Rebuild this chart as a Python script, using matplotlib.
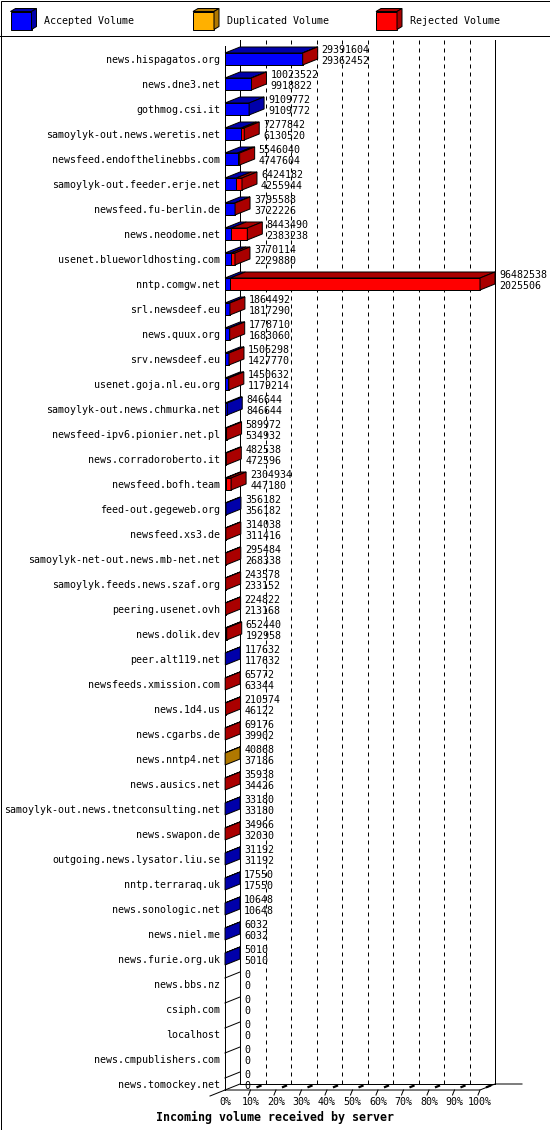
import matplotlib
matplotlib.use("Agg")
import matplotlib.pyplot as plt
from matplotlib.patches import Polygon, Rectangle

# Servers, sorted by accepted volume
servers = [
    "news.hispagatos.org", "news.dne3.net", "gothmog.csi.it",
    "samoylyk-out.news.weretis.net", "newsfeed.endofthelinebbs.com",
    "samoylyk-out.feeder.erje.net", "newsfeed.fu-berlin.de", "news.neodome.net",
    "usenet.blueworldhosting.com", "nntp.comgw.net", "srl.newsdeef.eu",
    "news.quux.org", "srv.newsdeef.eu", "usenet.goja.nl.eu.org",
    "samoylyk-out.news.chmurka.net", "newsfeed-ipv6.pionier.net.pl",
    "news.corradoroberto.it", "newsfeed.bofh.team", "feed-out.gegeweb.org",
    "newsfeed.xs3.de", "samoylyk-net-out.news.mb-net.net",
    "samoylyk.feeds.news.szaf.org", "peering.usenet.ovh", "news.dolik.dev",
    "peer.alt119.net", "newsfeeds.xmission.com", "news.1d4.us", "news.cgarbs.de",
    "news.nntp4.net", "news.ausics.net", "samoylyk-out.news.tnetconsulting.net",
    "news.swapon.de", "outgoing.news.lysator.liu.se", "nntp.terraraq.uk",
    "news.sonologic.net", "news.niel.me", "news.furie.org.uk", "news.bbs.nz",
    "csiph.com", "localhost", "news.cmpublishers.com", "news.tomockey.net",
]

total_volume = [
    29391604, 10023522, 9109772, 7277842, 5546040, 6424182, 3795588, 8443490,
    3770114, 96482538, 1864492, 1778710, 1506298, 1450632, 846644, 589972,
    482538, 2304934, 356182, 314038, 295484, 243578, 224822, 652440, 117632,
    65772, 210574, 69176, 40868, 35938, 33180, 34966, 31192, 17550, 10648,
    6032, 5010, 0, 0, 0, 0, 0,
]

accepted_volume = [
    29362452, 9918822, 9109772, 6130520, 4747604, 4255944, 3722226, 2383238,
    2229880, 2025506, 1817290, 1683060, 1427770, 1179214, 846644, 534932,
    472596, 447180, 356182, 311416, 268338, 233152, 213168, 192958, 117632,
    63344, 46122, 39902, 37186, 34426, 33180, 32030, 31192, 17550, 10648,
    6032, 5010, 0, 0, 0, 0, 0,
]

duplicated_volume = [
    0, 0, 0, 0, 0, 0, 0, 0, 0, 0, 0, 0, 0, 0, 0, 0, 0, 0, 0, 0, 0,
    0, 0, 0, 0, 0, 0, 0, 3682, 0, 0, 0, 0, 0, 0, 0, 0, 0, 0, 0, 0, 0,
]

rejected_volume = [t - a - d for t, a, d in
                   zip(total_volume, accepted_volume, duplicated_volume)]

series = [
    ("Accepted Volume", accepted_volume, "#0000ff", "#0000aa"),
    ("Duplicated Volume", duplicated_volume, "#ffb000", "#b07800"),
    ("Rejected Volume", rejected_volume, "#ff0000", "#aa0000"),
]

plt.rcParams['font.family'] = ['DejaVu Sans Mono']
FS = 7.2
LW = 0.72  # one pixel

W, H = 550, 1130
fig = plt.figure(figsize=(W / 100, H / 100), dpi=100)

# background layer in pixel units: frame and legend
bg = fig.add_axes([0, 0, 1, 1])
bg.set_xlim(0, W)
bg.set_ylim(H, 0)
bg.axis("off")
bg.add_patch(Rectangle((0.5, 0.5), W - 1, H - 1, fill=False, ec="black", lw=LW))
bg.plot([0, W], [35.5, 35.5], color="black", lw=LW)
for (name, _, front, dark), x0, tx in zip(series, [10.5, 193, 376], [44, 227, 410]):
    bg.add_patch(Rectangle((x0, 11.5), 21, 18, fc=front, ec="black", lw=LW))
    bg.add_patch(Polygon([(x0, 11.5), (x0 + 21, 11.5), (x0 + 26, 8.5), (x0 + 5, 8.5)],
                         fc=dark, ec="black", lw=LW))
    bg.add_patch(Polygon([(x0 + 21, 11.5), (x0 + 26, 8.5), (x0 + 26, 26.5), (x0 + 21, 29.5)],
                         fc=dark, ec="black", lw=LW))
    bg.text(tx, 21, name, fontsize=FS, va="center", ha="left")

# main plot area, front plane: 0% at x=225px, 100% at x=480px
left_px, right_px, top_px, bot_px = 225, 480, 46, 1090
row0_px, row_step = 59, 25
ax = fig.add_axes([left_px / W, 1 - bot_px / H,
                   (right_px - left_px) / W, (bot_px - top_px) / H])
y_top = (top_px - row0_px) / row_step
y_bot = (bot_px - row0_px) / row_step
ax.set_xlim(0, 100)
ax.set_ylim(y_bot, y_top)
ax.set_facecolor("none")
for s in ax.spines.values():
    s.set_visible(False)

xpx = (right_px - left_px) / 100.0  # pixels per percent
DX = 15 / xpx
DY = 6 / row_step
HB = 6 / row_step

# walls
ax.plot([0, 0], [y_top, y_bot], color="black", lw=LW, clip_on=False)
ax.plot([DX, DX], [y_top - DY, y_bot - DY], color="black", lw=LW, clip_on=False)
ax.plot([100 + DX, 100 + DX], [y_top - DY, y_bot - DY], color="black", lw=LW, clip_on=False)
for k in range(10, 100, 10):
    ax.plot([k + DX, k + DX], [y_top - DY, y_bot - DY], color="black", lw=LW,
            linestyle=(0, (4, 4)), clip_on=False)
# floor
ax.plot([0, 100, 100 + DX, 100 + DX + 27 / xpx], [y_bot, y_bot, y_bot - DY, y_bot - DY],
        color="black", lw=LW, clip_on=False)
ax.plot([DX, 100 + DX], [y_bot - DY, y_bot - DY], color="black", lw=LW, clip_on=False)
ax.plot([-DX, DX], [y_bot + DY, y_bot - DY], color="black", lw=LW, clip_on=False)
for k in range(10, 101, 10):
    ax.plot([k - 2 / xpx, k], [y_bot + 5 / row_step, y_bot], color="black", lw=LW, clip_on=False)
    ax.plot([k + 7 / xpx, k + 10 / xpx], [y_bot - 3 / row_step, y_bot - 4.2 / row_step],
            color="black", lw=1.6, clip_on=False)

# 3D stacked bars
vmax = max(total_volume)
for i in range(len(servers)):
    cum = 0.0
    last_dark = None
    for _, values, front, dark in series:
        v = values[i]
        if v <= 0:
            continue
        w = v / vmax * 100
        ax.add_patch(Rectangle((cum, i - HB), w, 2 * HB, fc=front, ec="black",
                               lw=LW, clip_on=False, zorder=3))
        ax.add_patch(Polygon([(cum, i - HB), (cum + w, i - HB),
                              (cum + w + DX, i - HB - DY), (cum + DX, i - HB - DY)],
                             fc=dark, ec="black", lw=LW, clip_on=False, zorder=3))
        cum += w
        last_dark = dark
    if last_dark is not None:
        ax.add_patch(Polygon([(cum, i - HB), (cum + DX, i - HB - DY),
                              (cum + DX, i + HB - DY), (cum, i + HB)],
                             fc=last_dark, ec="black", lw=LW, clip_on=False, zorder=3))
    else:
        ax.plot([0, DX], [i - HB, i - HB - DY], color="black", lw=LW, clip_on=False, zorder=3)
    tx = cum + DX + 4 / xpx
    ax.text(tx, i - 9 / row_step, str(total_volume[i]), fontsize=FS,
            va="center", ha="left", zorder=4, clip_on=False)
    ax.text(tx, i + 2 / row_step, str(accepted_volume[i]), fontsize=FS,
            va="center", ha="left", zorder=4, clip_on=False)

ax.set_yticks(range(len(servers)))
ax.set_yticklabels(servers, fontsize=FS)
ax.tick_params(axis="y", length=0, pad=3.6)
ticks = list(range(0, 101, 10))
ax.set_xticks(ticks)
ax.set_xticklabels([f"{t}%" for t in ticks], fontsize=FS)
ax.tick_params(axis="x", length=0, pad=5.0)

fig.text(274.5 / W, 1 - 1117 / H, "Incoming volume received by server",
         ha="center", va="center", fontsize=8.4, fontweight="bold")

fig.savefig("out.png", dpi=100)
